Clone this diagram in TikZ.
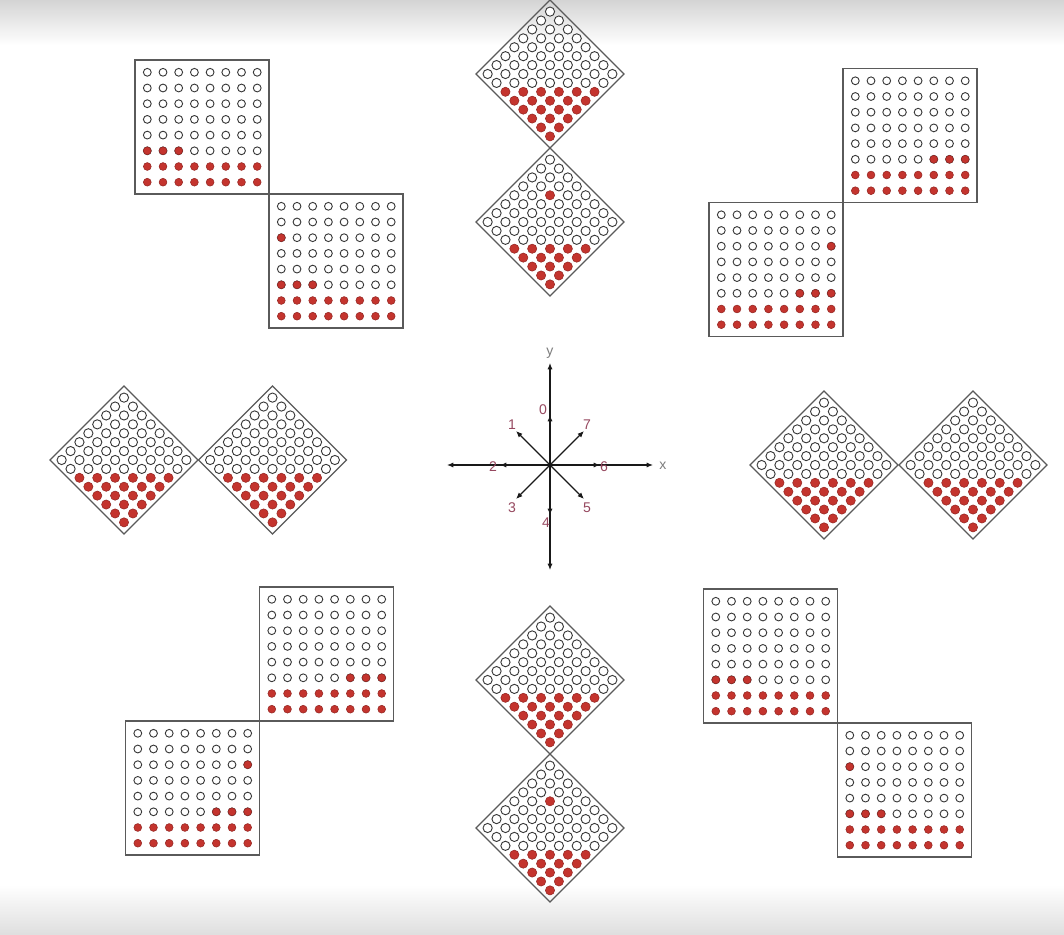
\documentclass[tikz,border=0pt]{standalone}
\usepackage{fontspec}
\setmainfont{Liberation Sans}
\usetikzlibrary{arrows.meta}
\usepackage{xcolor}
\definecolor{rimgray}{RGB}{90,90,90}
\definecolor{holegray}{RGB}{55,55,55}
\definecolor{pegred}{RGB}{196,52,46}
\definecolor{pegrim}{RGB}{150,40,36}
\definecolor{axcol}{RGB}{25,25,25}
\definecolor{numcol}{RGB}{150,72,95}
\definecolor{xycol}{RGB}{125,125,125}
\definecolor{shadetop}{RGB}{212,212,212}
\definecolor{shadebot}{RGB}{222,222,222}
\tikzset{
  FR/.style={draw=rimgray,line width=0.9pt},
  HL/.style={draw=holegray,fill=white,line width=0.65pt},
  PG/.style={draw=pegrim,fill=pegred,line width=0.4pt},
  AX/.style={{Latex[length=1.6mm,width=1.3mm]}-{Latex[length=1.6mm,width=1.3mm]},line width=0.8pt,axcol},
  DR/.style={-{Latex[length=1.6mm,width=1.3mm]},line width=0.8pt,axcol},
  lb/.style={font=\fontsize{10}{12}\selectfont,text=numcol,inner sep=0pt},
  xy/.style={font=\fontsize{10}{12}\selectfont,text=xycol,inner sep=0pt},
}

% square board: top-left corner (#1,#2), rows 6-7 red, extra red cells #3 as row/col
\newcommand{\sqboard}[3]{%
  \draw[FR] (#1,#2) rectangle ++(134,134);
  \foreach \rw in {0,...,7}{\foreach \cl in {0,...,7}{%
    \ifnum\rw>5
      \draw[PG] ({#1+12.3+\cl*15.7},{#2+12.3+\rw*15.7}) circle[radius=3.9];
    \else
      \draw[HL] ({#1+12.3+\cl*15.7},{#2+12.3+\rw*15.7}) circle[radius=3.9];
    \fi}}
  \foreach \rw/\cl in {#3}{%
    \draw[PG] ({#1+12.3+\cl*15.7},{#2+12.3+\rw*15.7}) circle[radius=3.9];}%
}

% diamond board: centre (#1,#2), red from diagonal row #3 on, extra red cell (#4,#4)
\newcommand{\dmboard}[4]{%
  \draw[FR] ({#1},{#2-74}) -- ({#1+74},{#2}) -- ({#1},{#2+74}) -- ({#1-74},{#2}) -- cycle;
  \foreach \ii in {0,...,7}{\foreach \jj in {0,...,7}{%
    \pgfmathtruncatemacro\isred{or(\ii+\jj>=#3,and(\ii==#4,\jj==#4))}%
    \ifnum\isred=1
      \draw[PG] ({#1+(\jj-\ii)*8.91},{#2+(\ii+\jj-7)*8.91}) circle[radius=4.6];
    \else
      \draw[HL] ({#1+(\jj-\ii)*8.91},{#2+(\ii+\jj-7)*8.91}) circle[radius=4.6];
    \fi}}%
}

\begin{document}
\begin{tikzpicture}[x=0.25mm,y=-0.25mm]
\useasboundingbox (0,0) rectangle (1064,935);
\fill[white] (0,0) rectangle (1064,935);
\fill[top color=shadetop,bottom color=white,draw=none] (0,0) rectangle (1064,45);
\fill[top color=white,bottom color=shadebot,draw=none] (0,885) rectangle (1064,935);

% top left pair
\sqboard{135}{60}{5/0,5/1,5/2}
\sqboard{269}{194}{5/0,5/1,5/2,2/0}

% top pair
\dmboard{550}{74}{9}{9}
\dmboard{550}{222}{10}{2}

% top right pair
\sqboard{843}{68.5}{5/5,5/6,5/7}
\sqboard{709}{202.5}{5/5,5/6,5/7,2/7}

% left pair
\dmboard{124}{460}{9}{9}
\dmboard{272.5}{460}{9}{9}

% right pair
\dmboard{824}{465}{9}{9}
\dmboard{973}{465}{9}{9}

% bottom left pair
\sqboard{259.5}{587}{5/5,5/6,5/7}
\sqboard{125.5}{721}{5/5,5/6,5/7,2/7}

% bottom pair
\dmboard{550}{680}{9}{9}
\dmboard{550}{828}{10}{2}

% bottom right pair
\sqboard{703.5}{589}{5/0,5/1,5/2}
\sqboard{837.5}{723}{5/0,5/1,5/2,2/0}

% axes
\coordinate (O)  at (550,465);
\coordinate (yt) at (550,363);
\coordinate (yb) at (550,570);
\coordinate (xl) at (447,465);
\coordinate (xr) at (653,465);
\draw[AX] (yb) -- (yt);
\draw[AX] (xl) -- (xr);
\node[xy](ly) at (550,353){y};
\node[xy](lx) at (663,466){x};

% directions 0-7
\foreach \n/\dx/\dy in {0/0/-50,1/-34/-34,2/-50/0,3/-34/34,4/0/50,5/34/34,6/50/0,7/34/-34}{
  \coordinate (d\n) at ({550+\dx},{465+\dy});
  \draw[DR] (O) -- (d\n);
}
\node[lb](l0) at (543,410){0};
\node[lb](l1) at (512,425){1};
\node[lb](l2) at (493,467){2};
\node[lb](l3) at (512,508){3};
\node[lb](l4) at (546,523){4};
\node[lb](l5) at (587,508){5};
\node[lb](l6) at (604,467){6};
\node[lb](l7) at (587,425){7};

\end{tikzpicture}
\end{document}
